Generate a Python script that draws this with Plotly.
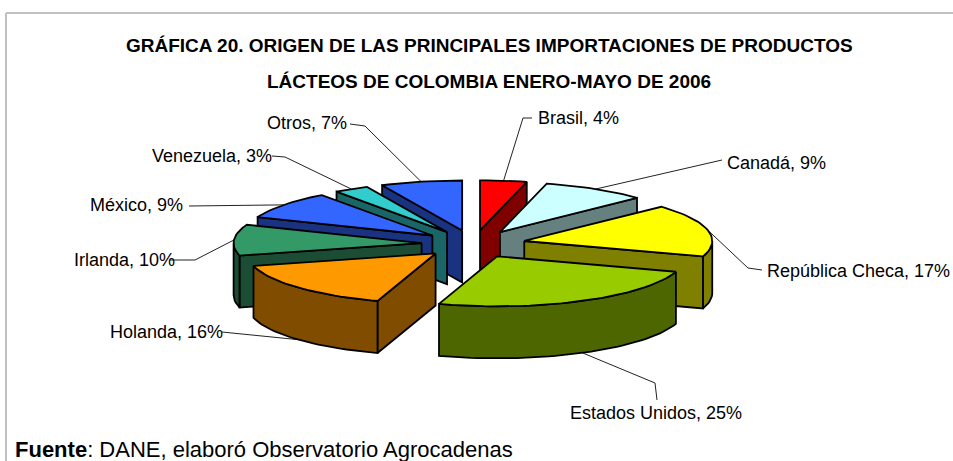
import math
import plotly.graph_objects as go

# --- Data ---
categories = ["Brasil", "Canadá", "República Checa", "Estados Unidos", "Holanda",
              "Irlanda", "México", "Venezuela", "Otros"]
shares = [4, 9, 17, 25, 16, 10, 9, 3, 7]
top_colors = ["#FF0000", "#CCFFFF", "#FFFF00", "#99CC00", "#FF9900",
              "#339966", "#3366FF", "#33CCCC", "#3366FF"]
side_colors = ["#800000", "#668080", "#808000", "#4D6600", "#804D00",
               "#1A4D33", "#1A3380", "#1A6666", "#1A3380"]
title_lines = ["GRÁFICA 20. ORIGEN DE LAS PRINCIPALES IMPORTACIONES DE PRODUCTOS",
               "LÁCTEOS DE COLOMBIA ENERO-MAYO DE 2006"]
source_text = "<b>Fuente</b>: DANE, elaboró Observatorio Agrocadenas"

# --- Layout of the projected pie (pixels) ---
W, H = 953, 461
CX, CY = 473.5, 244
RX, RY = 188, 50
EXPLODE = 52
TILT = RY / RX
DEPTH = 52
label_pos = [(538, 118), (727, 163), (767, 271), (570, 413), (110, 332),
             (74, 260), (90, 205), (152, 156), (267, 123)]
leader_start = [(532, 118), (722, 160), (762, 270), (657, 400), (222, 332),
                (170, 260), (189, 206), (272, 156), (350, 124)]
leader_elbow = [(523, 118), None, (748, 268), (655, 383), None,
                (195, 260), None, (285, 157), (365, 126)]
draw_order = [0, 8, 7, 1, 6, 5, 2, 4, 3]

total = sum(shares)
spans, acc = [], 0
for s in shares:
    spans.append((acc / total * 360, (acc + s) / total * 360))
    acc += s


def rim(apex, a):
    r = math.radians(a)
    return apex[0] + RX * math.sin(r), apex[1] - RY * math.cos(r)


def apex_of(a1, a2):
    m = math.radians((a1 + a2) / 2)
    return CX + EXPLODE * math.sin(m), CY - EXPLODE * TILT * math.cos(m)


def arc(apex, a1, a2, step=2.0):
    n = max(2, int((a2 - a1) / step) + 1)
    return [rim(apex, a1 + (a2 - a1) * i / (n - 1)) for i in range(n)]


fig = go.Figure()


def poly(points, fill):
    xs = [p[0] for p in points] + [points[0][0]]
    ys = [p[1] for p in points] + [points[0][1]]
    fig.add_trace(go.Scatter(x=xs, y=ys, mode="lines", fill="toself", fillcolor=fill,
                             line=dict(color="black", width=1.8),
                             hoverinfo="skip", showlegend=False))


def extrude(pts):
    return pts + [(x, y + DEPTH) for x, y in reversed(pts)]


# Leader lines (those of front-facing slices reach the lower rim)
for i, (a1, a2) in enumerate(spans):
    mid = (a1 + a2) / 2
    ex, ey = rim(apex_of(a1, a2), mid)
    if math.cos(math.radians(mid)) < -0.3:
        ey += DEPTH
    pts = [leader_start[i]] + ([leader_elbow[i]] if leader_elbow[i] else []) + [(ex, ey)]
    fig.add_trace(go.Scatter(x=[p[0] for p in pts], y=[p[1] for p in pts], mode="lines",
                             line=dict(color="#222222", width=1),
                             hoverinfo="skip", showlegend=False))

# Wedges, back to front
for i in draw_order:
    a1, a2 = spans[i]
    apex = apex_of(a1, a2)
    if math.cos(math.radians(a1 - 90)) < -1e-6:
        poly(extrude([apex, rim(apex, a1)]), side_colors[i])
    if math.cos(math.radians(a2 + 90)) < -1e-6:
        poly(extrude([apex, rim(apex, a2)]), side_colors[i])
    lo, hi = max(a1, 90), min(a2, 270)
    if lo < hi:
        poly(extrude(arc(apex, lo, hi)), side_colors[i])
    poly([apex] + arc(apex, a1, a2), top_colors[i])

annotations = []
for i, c in enumerate(categories):
    annotations.append(dict(x=label_pos[i][0], y=label_pos[i][1], text=f"{c}, {shares[i]}%",
                            xref="x", yref="y", xanchor="left", yanchor="middle", showarrow=False,
                            xshift=-2,
                            font=dict(family="Liberation Sans", size=18, color="black")))
for line, y in zip(title_lines, (45, 81)):
    annotations.append(dict(x=489, y=y, text=f"<b>{line}</b>", xref="x", yref="y", xanchor="center",
                            yanchor="middle", showarrow=False,
                            font=dict(family="Liberation Sans", size=19, color="black")))
annotations.append(dict(x=15, y=449, text=source_text, xref="x", yref="y", xanchor="left",
                        yanchor="middle", showarrow=False, xshift=-2,
                        font=dict(family="Liberation Sans", size=22, color="black")))

fig.update_layout(
    width=W, height=H, margin=dict(l=0, r=0, t=0, b=0),
    paper_bgcolor="white", plot_bgcolor="white", showlegend=False,
    xaxis=dict(range=[0, W], visible=False, fixedrange=True),
    yaxis=dict(range=[H, 0], visible=False, fixedrange=True),
    annotations=annotations,
    shapes=[dict(type="line", xref="x", yref="y", x0=6, y0=13, x1=W, y1=13,
                 line=dict(color="#C0C0C0", width=2)),
            dict(type="line", xref="x", yref="y", x0=6, y0=13, x1=6, y1=H,
                 line=dict(color="#C0C0C0", width=2))],
)
fig.write_html("out.html", config=dict(displayModeBar=False),
               post_script="document.body.style.margin='0';document.body.style.overflow='hidden';")
